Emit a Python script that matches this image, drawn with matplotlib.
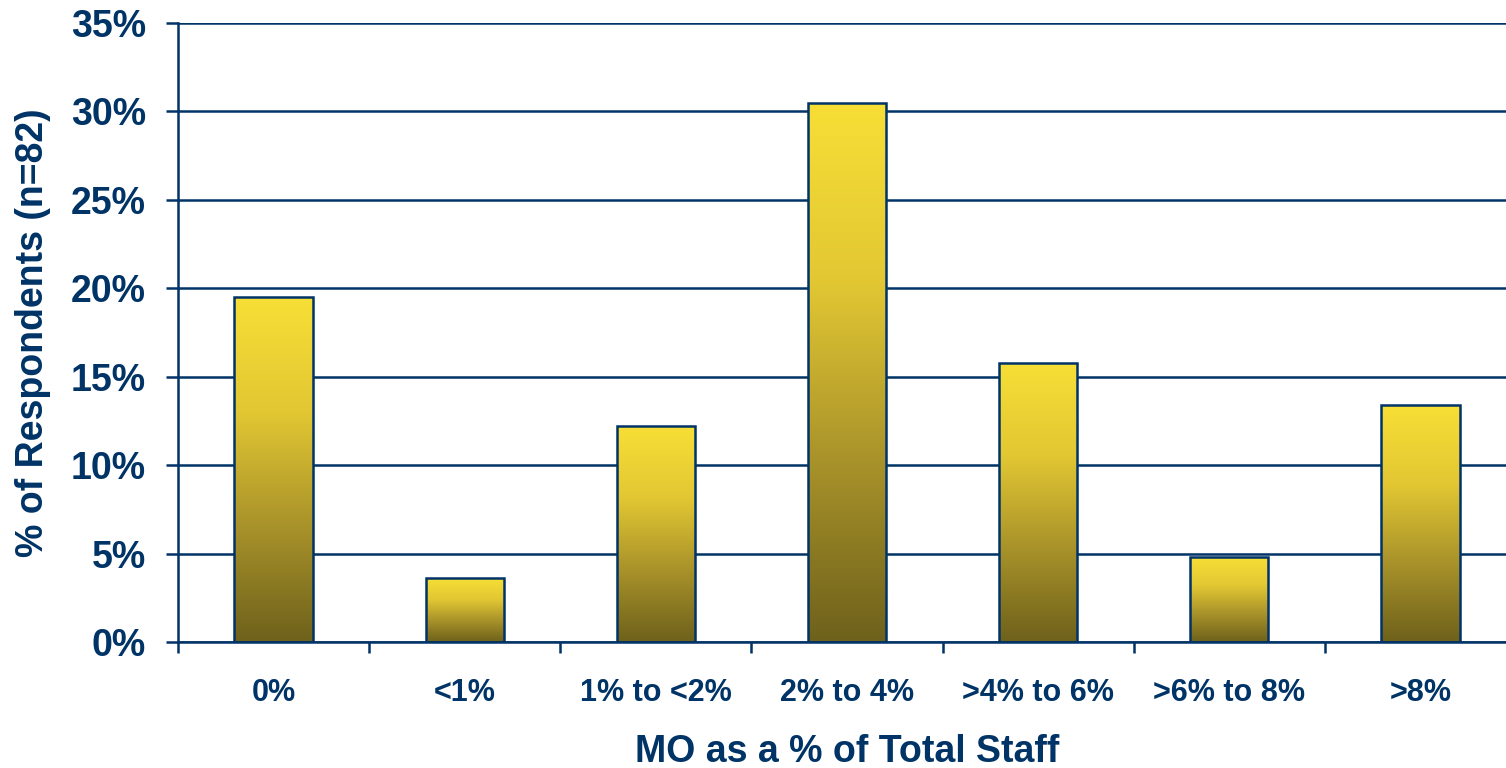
import numpy as np
import matplotlib.pyplot as plt
from matplotlib.colors import LinearSegmentedColormap
from matplotlib.ticker import FixedLocator, PercentFormatter

# Data
categories = ['0%', '<1%', '1% to <2%', '2% to 4%', '>4% to 6%', '>6% to 8%', '>8%']
pct_respondents = [19.5, 3.6, 12.2, 30.5, 15.8, 4.8, 13.4]

navy = '#003366'
grad = LinearSegmentedColormap.from_list('gold', ['#6E611B', '#A8922A', '#E2C733', '#F7DF36'])

plt.rcParams['font.family'] = ['Liberation Sans', 'DejaVu Sans']
plt.rcParams['font.weight'] = 'bold'

fig = plt.figure(figsize=(15.06, 7.68), dpi=100)
ax = fig.add_axes([178 / 1506, 1 - 642 / 768, 1338 / 1506, 619 / 768])

x = np.arange(len(categories))
bars = ax.bar(x, pct_respondents, width=0.41, facecolor='none', edgecolor=navy,
              linewidth=1.8, zorder=3)

# gradient fill for each bar, top yellow to dark olive bottom
g = np.linspace(0, 1, 256).reshape(-1, 1)
for b in bars:
    x0, y0 = b.get_x(), b.get_y()
    w, h = b.get_width(), b.get_height()
    im = ax.imshow(g, cmap=grad, origin='lower', aspect='auto',
                   extent=[x0, x0 + w, y0, y0 + h], zorder=2)
    im.set_clip_path(b)

ax.set_xlim(-0.5, len(categories) - 0.5)
ax.set_ylim(0, 35)

ax.yaxis.set_major_locator(FixedLocator(np.arange(0, 36, 5)))
ax.yaxis.set_major_formatter(PercentFormatter(decimals=0))
ax.grid(axis='y', color=navy, linewidth=1.8, zorder=1)
ax.set_axisbelow(True)

ax.set_xticks(x)
ax.set_xticklabels(categories)
# tick marks sit on the category boundaries
ax.set_xticks(np.arange(-0.5, len(categories) - 0.5), minor=True)
ax.tick_params(axis='x', which='major', length=0, pad=26, labelsize=22, labelcolor=navy)
ax.tick_params(axis='x', which='minor', length=8, width=1.8, color=navy, direction='out')
ax.tick_params(axis='y', length=9, width=1.8, color=navy, pad=14, labelsize=27,
               labelcolor=navy)

for s in ['top', 'right']:
    ax.spines[s].set_visible(False)
for s in ['left', 'bottom']:
    ax.spines[s].set_color(navy)
    ax.spines[s].set_linewidth(1.8)

ax.set_xlabel('MO as a % of Total Staff', fontsize=27, color=navy, fontweight='bold', labelpad=19)
ax.set_ylabel('% of Respondents (n=82)', fontsize=27, color=navy, fontweight='bold', labelpad=14)

fig.savefig('out.png', dpi=100)
